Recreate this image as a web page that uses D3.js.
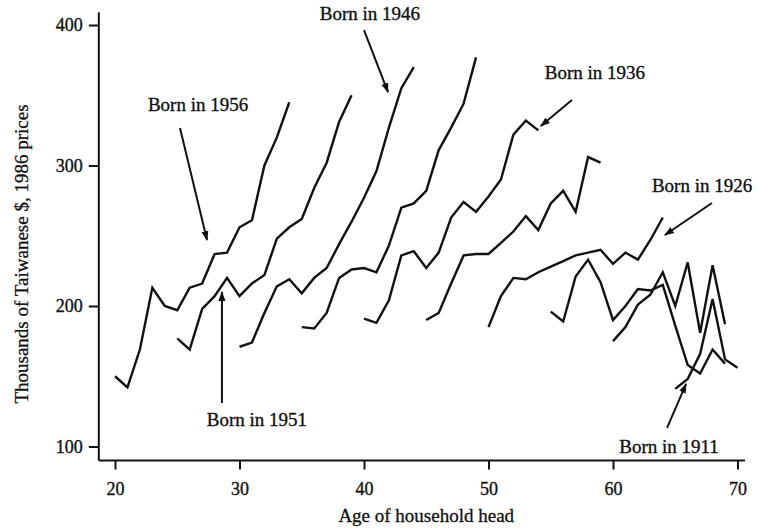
<!DOCTYPE html>
<html>
<head>
<meta charset="utf-8">
<script src="https://cdn.jsdelivr.net/npm/d3@7"></script>
<style>
  html, body { margin: 0; padding: 0; background: #fff; }
  svg { display: block; font-family: "Liberation Serif", "Times New Roman", serif; }
</style>
</head>
<body>
<svg id="chart" width="757" height="528"></svg>
<script>
// Household consumption by age of head, one line per birth cohort
const cohorts = [1956, 1951, 1946, 1941, 1936, 1931, 1926, 1921, 1916, 1911];
const startAges = [20, 25, 30, 35, 40, 45, 50, 55, 60, 65];
const values1956 = [150, 142, 169, 213, 200, 197, 213, 216, 237, 238, 256, 261, 300, 320, 345];
const values1951 = [177, 169, 198, 207, 220, 207, 216, 222, 248, 256, 262, 284, 302, 331, 350];
const values1946 = [171, 174, 195, 214, 219, 209, 220, 227, 244, 260, 277, 296, 327, 355, 370];
const values1941 = [185, 184, 195, 220, 226, 227, 224, 243, 270, 273, 282, 311, 327, 344, 377];
const values1936 = [191, 188, 204, 236, 239, 227, 238, 263, 274, 267, 278, 290, 322, 332, 325];
const values1931 = [190, 195, 216, 236, 237, 237, 245, 253, 264, 254, 273, 282, 267, 306, 302];
const values1926 = [185, 207, 220, 219, 224, 228, 232, 236, 238, 240, 230, 238, 233, 247, 263];
const values1921 = [196, 189, 221, 233, 217, 190, 200, 212, 211, 215, 186, 158, 152, 169, 159];
const values1916 = [175, 185, 201, 208, 224, 200, 231, 181, 229, 187];
const values1911 = [141, 148, 166, 205, 162, 156];
const seriesValues = [values1956, values1951, values1946, values1941, values1936,
                      values1931, values1926, values1921, values1916, values1911];

const xTicks = [20, 30, 40, 50, 60, 70];
const yTicks = [100, 200, 300, 400];
const xTitle = "Age of household head";
const yTitle = "Thousands of Taiwanese $, 1986 prices";

// Cohort callouts: label centre and arrow (tail -> head) in data units (age, value)
const calloutText = ["Born in 1956", "Born in 1951", "Born in 1946", "Born in 1936", "Born in 1926", "Born in 1911"];
const calloutLabel = [[26.67, 341.6], [31.4, 117.4], [40.48, 407], [58.55, 364.4], [67.15, 284], [64.5, 98.2]];
const calloutTail = [[25.22, 326.7], [28.59, 131], [40.0, 396.4], [56.7, 346.6], [67.95, 273.3], [64.34, 113.2]];
const calloutHead = [[27.39, 247], [28.59, 210], [41.93, 352.3], [54.2, 328.1], [64.17, 250.5], [65.87, 144.5]];

const svg = d3.select("#chart");
const x = d3.scaleLinear().domain([20, 70]).range([115, 737.5]);
const y = d3.scaleLinear().domain([100, 400]).range([446.5, 25]);

const ink = "#111";
const fontStack = "'Liberation Serif', 'Times New Roman', serif";

// Axis lines (extend a little past the outer ticks)
svg.append("line")
  .attr("x1", x(18.7)).attr("x2", x(18.7))
  .attr("y1", y(90)).attr("y2", y(409))
  .attr("stroke", ink).attr("stroke-width", 2);
svg.append("line")
  .attr("x1", x(18.7)).attr("x2", x(70.6))
  .attr("y1", y(90)).attr("y2", y(90))
  .attr("stroke", ink).attr("stroke-width", 2);

const yAxis = svg.append("g")
  .attr("transform", `translate(${x(18.7)},0)`)
  .call(d3.axisLeft(y).tickValues(yTicks).tickSize(10).tickPadding(6).tickSizeOuter(0));
const xAxis = svg.append("g")
  .attr("transform", `translate(0,${y(90)})`)
  .call(d3.axisBottom(x).tickValues(xTicks).tickSize(9).tickPadding(13).tickSizeOuter(0));

[yAxis, xAxis].forEach(g => {
  g.select(".domain").remove();
  g.selectAll(".tick line").attr("stroke", ink).attr("stroke-width", 2);
  g.selectAll(".tick text")
    .attr("fill", ink)
    .attr("stroke", ink).attr("stroke-width", 0.35)
    .style("font-family", fontStack)
    .style("font-size", "18px");
});

// Axis titles
svg.append("text")
  .attr("x", x(45)).attr("y", 522)
  .attr("text-anchor", "middle")
  .attr("font-size", 19).attr("fill", ink)
  .attr("stroke", ink).attr("stroke-width", 0.3)
  .text(xTitle);
svg.append("text")
  .attr("transform", `translate(28,${y(237)}) rotate(-90)`)
  .attr("text-anchor", "middle")
  .attr("font-size", 19).attr("fill", ink)
  .attr("stroke", ink).attr("stroke-width", 0.3)
  .text(yTitle);

// Cohort lines
const line = d3.line().x(d => x(d[0])).y(d => y(d[1]));
seriesValues.forEach((vals, i) => {
  const pts = vals.map((v, k) => [startAges[i] + k, v]);
  svg.append("path")
    .datum(pts)
    .attr("d", line)
    .attr("fill", "none")
    .attr("stroke", ink)
    .attr("stroke-width", 2.4)
    .attr("stroke-linejoin", "miter")
    .attr("class", "cohort-" + cohorts[i]);
});

// Arrowhead marker
svg.append("defs").append("marker")
  .attr("id", "head")
  .attr("viewBox", "0 0 10 10")
  .attr("refX", 9).attr("refY", 5)
  .attr("markerWidth", 10).attr("markerHeight", 10)
  .attr("markerUnits", "userSpaceOnUse")
  .attr("orient", "auto")
  .append("path")
  .attr("d", "M0,1.5 L10,5 L0,8.5 Z")
  .attr("fill", ink);

calloutText.forEach((t, i) => {
  svg.append("text")
    .attr("x", x(calloutLabel[i][0])).attr("y", y(calloutLabel[i][1]))
    .attr("text-anchor", "middle")
    .attr("dominant-baseline", "middle")
    .attr("font-size", 19).attr("fill", ink)
    .attr("stroke", ink).attr("stroke-width", 0.35)
    .text(t);
  svg.append("line")
    .attr("x1", x(calloutTail[i][0])).attr("y1", y(calloutTail[i][1]))
    .attr("x2", x(calloutHead[i][0])).attr("y2", y(calloutHead[i][1]))
    .attr("stroke", ink).attr("stroke-width", 2)
    .attr("marker-end", "url(#head)");
});
</script>
</body>
</html>
